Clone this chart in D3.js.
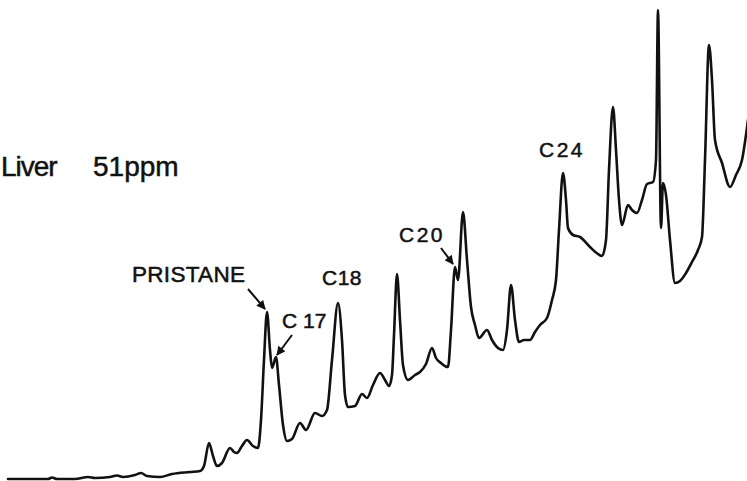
<!DOCTYPE html>
<html>
<head>
<meta charset="utf-8">
<script src="https://cdn.jsdelivr.net/npm/d3@7"></script>
<style>
  body { margin:0; background:#fff; }
  svg { display:block; }
  text { font-family:"Liberation Sans", Arial, sans-serif; fill:#111; stroke:#111; stroke-width:0.5px; }
</style>
</head>
<body>
<svg></svg>
<script>
var screen = {width:747, height:481}

// retention time (min)
var retention = [
  0.40,1.50,2.40,2.60,2.85,3.75,4.40,4.75,5.50,5.85,6.15,6.75,7.05,7.35,8.00,8.60,9.50,10.00,
  10.20,10.45,10.65,10.85,11.10,11.50,11.70,11.85,12.10,12.35,12.65,12.90,
  13.05,13.20,13.35,13.50,13.60,13.80,13.95,14.15,14.35,14.60,15.00,15.30,15.75,16.10,16.35,
  16.60,16.90,17.10,17.25,17.40,17.75,18.10,18.35,18.65,19.00,19.25,19.45,
  19.60,19.70,19.85,20.00,20.15,20.40,20.75,21.00,21.30,21.60,21.80,22.05,22.40,
  22.55,22.75,22.90,23.15,23.35,23.55,23.75,23.95,24.35,24.60,24.90,25.15,
  25.35,25.55,25.75,25.95,26.20,26.50,26.75,27.00,27.35,27.60,27.80,
  27.95,28.15,28.30,28.40,28.65,29.00,29.50,29.90,30.10,
  30.30,30.45,30.65,30.80,30.95,31.10,31.40,31.60,31.85,32.10,32.35,32.65,
  32.80,32.90,33.05,33.15,33.30,33.50,33.75,34.00,34.30,34.60,34.90,35.10,
  35.25,35.45,35.60,35.75,36.10,36.50,36.80,37.10,37.40
]
// detector response (chart divisions)
var response = [
  0.2,0.2,0.2,0.35,0.2,0.2,0.4,0.3,0.4,0.55,0.4,0.6,0.8,0.5,0.4,0.7,0.9,1.0,
  1.5,3.8,2.5,1.5,1.8,3.3,2.9,2.8,3.5,4.1,3.5,3.3,
  6.1,12.1,16.9,13.1,11.3,12.4,9.6,5.6,4.0,4.2,5.8,5.1,6.8,6.5,7.1,
  12.1,17.8,14.1,8.6,7.4,7.5,8.7,8.3,9.6,10.8,10.1,9.5,
  10.6,14.6,20.7,16.1,11.6,10.1,10.6,10.9,11.7,13.3,12.3,11.8,11.4,
  15.1,21.4,20.1,26.9,22.1,17.4,15.6,14.3,15.1,14.1,13.3,13.1,
  15.1,19.6,16.1,13.9,14.1,14.1,14.9,15.6,16.3,18.1,20.1,
  25.1,30.8,28.1,25.3,24.6,24.4,23.4,22.7,22.5,
  24.1,31.1,37.4,33.1,28.1,25.6,27.6,27.1,26.8,28.1,29.7,29.9,
  32.1,47.1,25.3,29.8,28.6,24.1,19.8,20.0,20.8,21.9,23.1,24.4,
  32.1,43.6,40.1,34.1,31.8,29.4,30.6,32.1,36.1
]

var sampleLabel = ["Liver", "51ppm"]
var peakNames = ["PRISTANE", "C 17", "C18", "C20", "C24"]

var svg = d3.select("svg")
  .attr("width", screen.width)
  .attr("height", screen.height)

var xScale = d3.scaleLinear().domain([0, 37.35]).range([0, screen.width])
var yScale = d3.scaleLinear().domain([0, 48.1]).range([screen.height, 0])

var points = retention.map(function(t, i){ return {t:t, r:response[i]} })

// arrowhead
svg.append("defs").append("marker")
  .attr("id", "head")
  .attr("markerUnits", "userSpaceOnUse")
  .attr("viewBox", "0 0 10 10")
  .attr("refX", 9).attr("refY", 5)
  .attr("markerWidth", 10).attr("markerHeight", 9)
  .attr("orient", "auto")
  .append("path")
  .attr("d", "M0,0 L10,5 L0,10 Z")
  .attr("fill", "#111")

var line = d3.line()
  .x(function(d){ return xScale(d.t) })
  .y(function(d){ return yScale(d.r) })
  .curve(d3.curveMonotoneX)

svg.append("path")
  .datum(points)
  .attr("d", line)
  .attr("fill", "none")
  .attr("stroke", "#111")
  .attr("stroke-width", 2.6)
  .attr("stroke-linejoin", "round")
  .attr("stroke-linecap", "round")

// sample title
svg.append("text")
  .attr("x", xScale(0.05)).attr("y", yScale(30.5))
  .attr("font-size", 28)
  .attr("letter-spacing", -1)
  .text(sampleLabel[0])
svg.append("text")
  .attr("x", xScale(4.65)).attr("y", yScale(30.5))
  .attr("font-size", 28)
  .text(sampleLabel[1])

// peak labels, placed in chart units
var labelPos = [
  {t:6.6,  r:19.9, size:22.5, ls:0.3},
  {t:14.1, r:15.3, size:21, ls:0},
  {t:16.1, r:19.6, size:21, ls:0.5},
  {t:19.95,r:23.9, size:21, ls:2.5},
  {t:26.95,r:32.4, size:21, ls:2.5}
]
svg.selectAll(".peak")
  .data(peakNames)
  .enter()
  .append("text")
  .attr("class", "peak")
  .attr("x", function(d, i){ return xScale(labelPos[i].t) })
  .attr("y", function(d, i){ return yScale(labelPos[i].r) })
  .attr("font-size", function(d, i){ return labelPos[i].size })
  .attr("letter-spacing", function(d, i){ return labelPos[i].ls })
  .attr("xml:space", "preserve")
  .text(function(d){ return d })

// pointer arrows: pristane, C17, C20
var arrows = [
  {t0:12.4,  r0:19.2, t1:13.25, r1:17.2},
  {t0:14.6,  r0:14.6, t1:13.85, r1:12.6},
  {t0:22.05, r0:23.3, t1:22.65, r1:21.7}
]
svg.selectAll(".arrow")
  .data(arrows)
  .enter()
  .append("line")
  .attr("class", "arrow")
  .attr("x1", function(d){ return xScale(d.t0) })
  .attr("y1", function(d){ return yScale(d.r0) })
  .attr("x2", function(d){ return xScale(d.t1) })
  .attr("y2", function(d){ return yScale(d.r1) })
  .attr("stroke", "#111")
  .attr("stroke-width", 2)
  .attr("marker-end", "url(#head)")
</script>
</body>
</html>
